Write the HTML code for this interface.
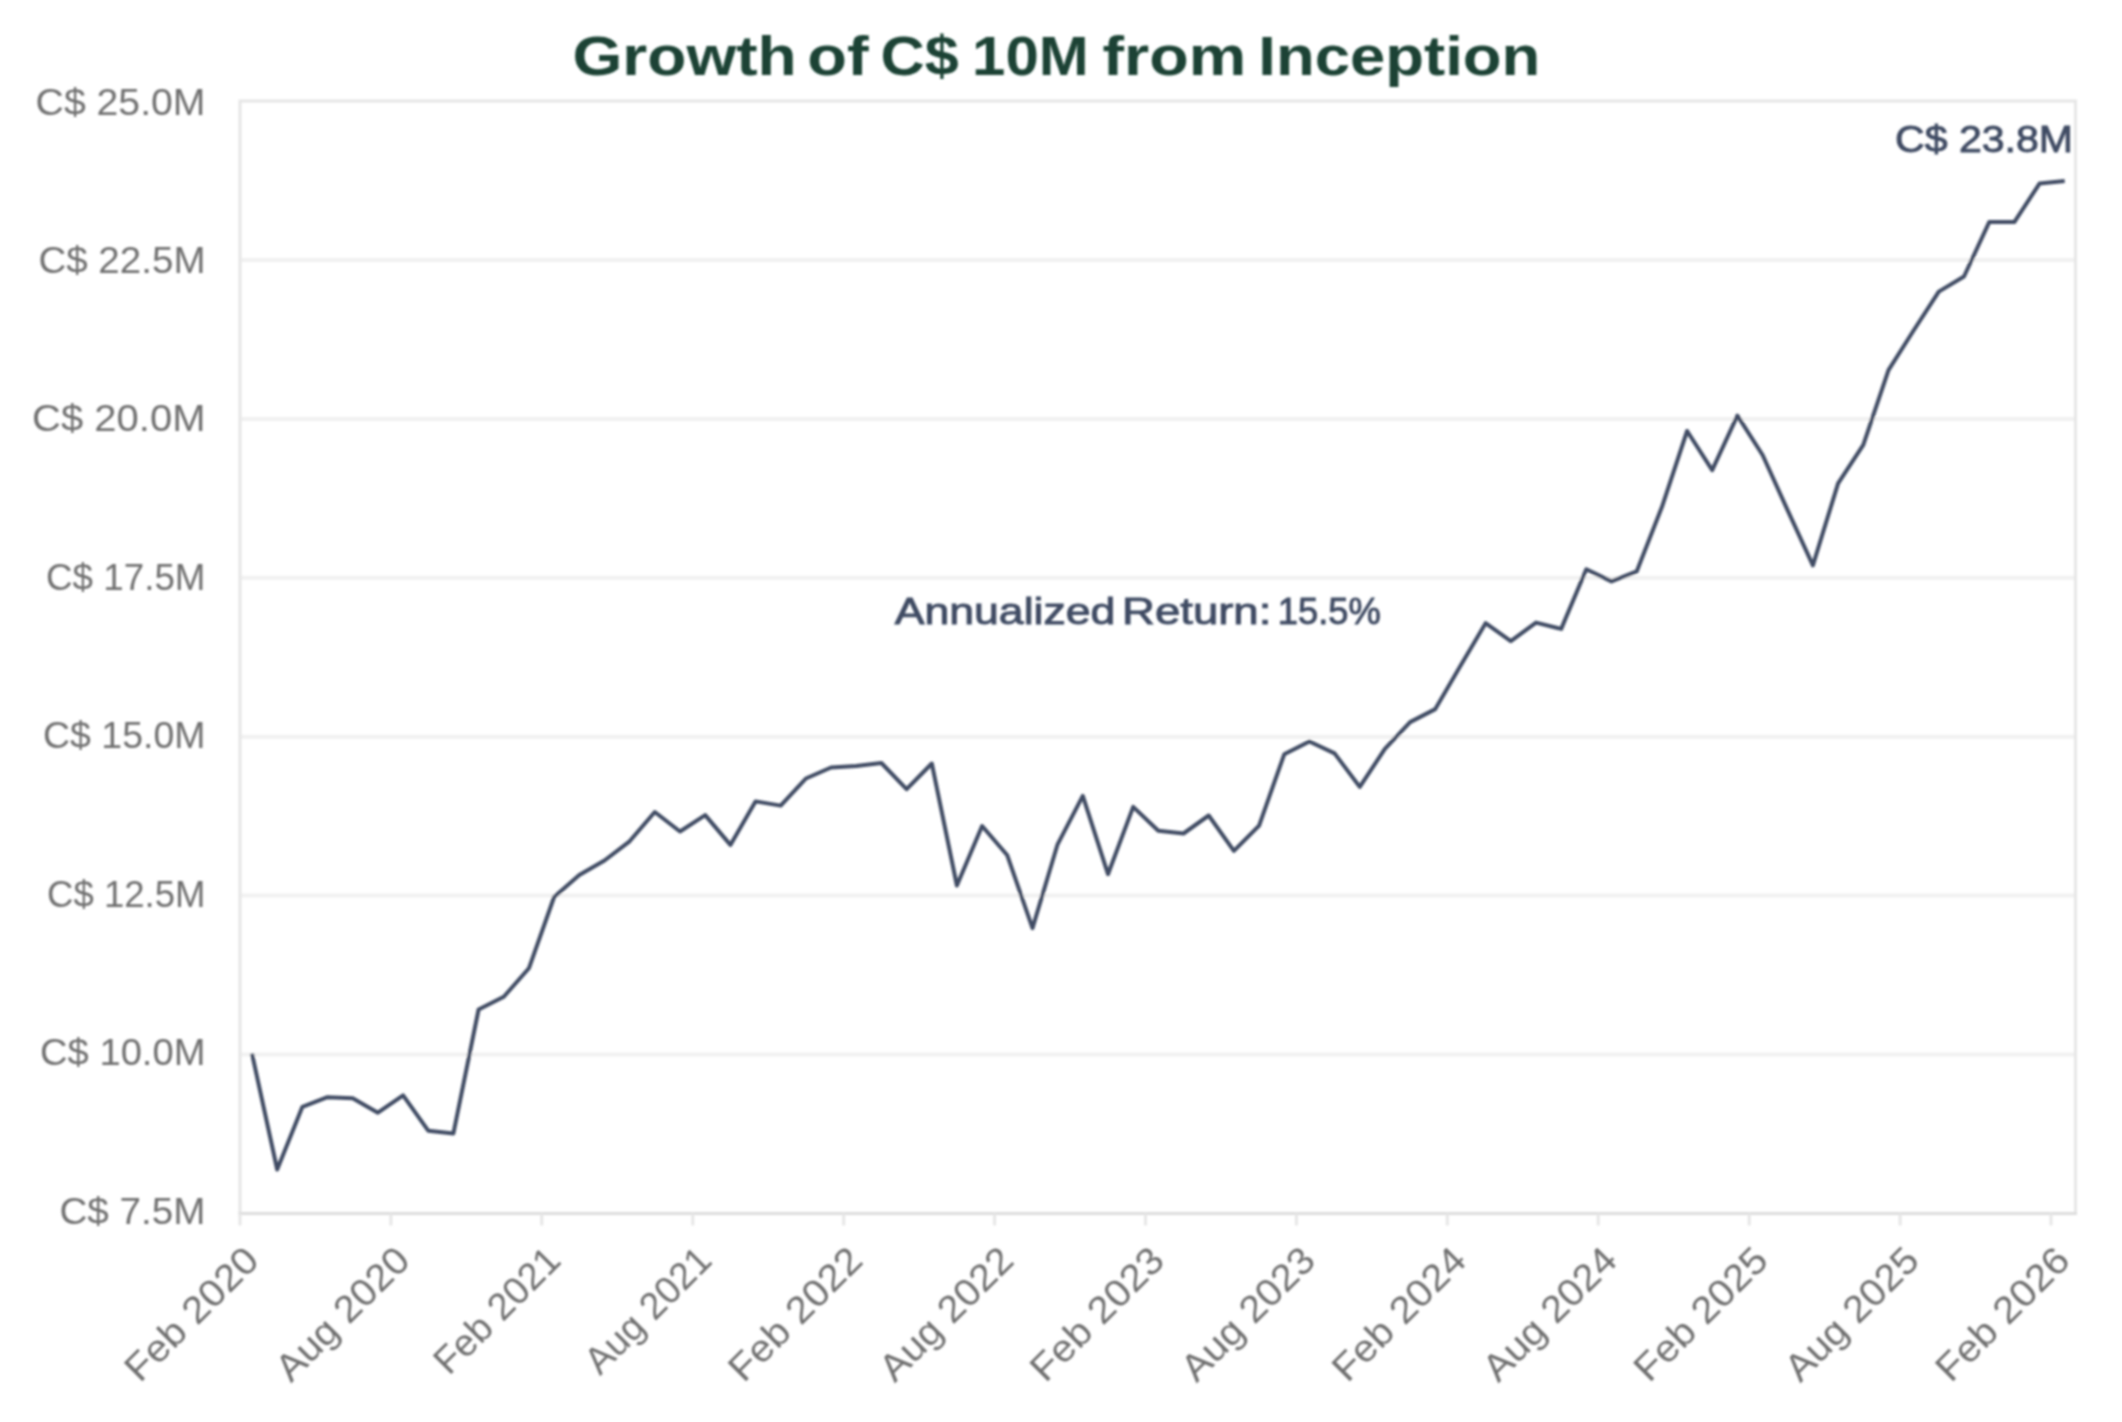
<!DOCTYPE html>
<html><head><meta charset="utf-8"><style>
html,body{margin:0;padding:0;background:#fff;width:2122px;height:1422px;overflow:hidden}
svg{display:block}
text{font-family:"Liberation Sans", sans-serif}
</style></head><body>
<svg width="2122" height="1422" viewBox="0 0 2122 1422">
<defs><filter id="bl" x="0" y="0" width="2122" height="1422" filterUnits="userSpaceOnUse"><feGaussianBlur stdDeviation="1.0"/></filter></defs>
<rect width="2122" height="1422" fill="#ffffff"/>
<g filter="url(#bl)">
<line x1="240" y1="259.9" x2="2075.5" y2="259.9" stroke="#f1f1f1" stroke-width="4"/>
<line x1="240" y1="418.9" x2="2075.5" y2="418.9" stroke="#f1f1f1" stroke-width="4"/>
<line x1="240" y1="577.8" x2="2075.5" y2="577.8" stroke="#f1f1f1" stroke-width="4"/>
<line x1="240" y1="736.7" x2="2075.5" y2="736.7" stroke="#f1f1f1" stroke-width="4"/>
<line x1="240" y1="895.6" x2="2075.5" y2="895.6" stroke="#f1f1f1" stroke-width="4"/>
<line x1="240" y1="1054.6" x2="2075.5" y2="1054.6" stroke="#f1f1f1" stroke-width="4"/>
<rect x="240" y="101" width="1835.5" height="1112.5" fill="none" stroke="#e6e6e6" stroke-width="3"/>
<line x1="238.5" y1="1213.5" x2="2077.0" y2="1213.5" stroke="#dddddd" stroke-width="3"/>
<line x1="240.0" y1="1213.5" x2="240.0" y2="1225.5" stroke="#e6e6e6" stroke-width="3"/>
<line x1="390.9" y1="1213.5" x2="390.9" y2="1225.5" stroke="#e6e6e6" stroke-width="3"/>
<line x1="541.8" y1="1213.5" x2="541.8" y2="1225.5" stroke="#e6e6e6" stroke-width="3"/>
<line x1="692.8" y1="1213.5" x2="692.8" y2="1225.5" stroke="#e6e6e6" stroke-width="3"/>
<line x1="843.7" y1="1213.5" x2="843.7" y2="1225.5" stroke="#e6e6e6" stroke-width="3"/>
<line x1="994.6" y1="1213.5" x2="994.6" y2="1225.5" stroke="#e6e6e6" stroke-width="3"/>
<line x1="1145.5" y1="1213.5" x2="1145.5" y2="1225.5" stroke="#e6e6e6" stroke-width="3"/>
<line x1="1296.4" y1="1213.5" x2="1296.4" y2="1225.5" stroke="#e6e6e6" stroke-width="3"/>
<line x1="1447.3" y1="1213.5" x2="1447.3" y2="1225.5" stroke="#e6e6e6" stroke-width="3"/>
<line x1="1598.2" y1="1213.5" x2="1598.2" y2="1225.5" stroke="#e6e6e6" stroke-width="3"/>
<line x1="1749.2" y1="1213.5" x2="1749.2" y2="1225.5" stroke="#e6e6e6" stroke-width="3"/>
<line x1="1900.1" y1="1213.5" x2="1900.1" y2="1225.5" stroke="#e6e6e6" stroke-width="3"/>
<line x1="2051.0" y1="1213.5" x2="2051.0" y2="1225.5" stroke="#e6e6e6" stroke-width="3"/>
<text x="35.6" y="114.5" font-size="37" fill="#707070" textLength="169.9" lengthAdjust="spacingAndGlyphs">C$ 25.0M</text>
<text x="38.4" y="273.0" font-size="37" fill="#707070" textLength="167.1" lengthAdjust="spacingAndGlyphs">C$ 22.5M</text>
<text x="32.0" y="431.4" font-size="37" fill="#707070" textLength="173.5" lengthAdjust="spacingAndGlyphs">C$ 20.0M</text>
<text x="46.0" y="589.9" font-size="37" fill="#707070" textLength="159.5" lengthAdjust="spacingAndGlyphs">C$ 17.5M</text>
<text x="43.0" y="748.4" font-size="37" fill="#707070" textLength="162.5" lengthAdjust="spacingAndGlyphs">C$ 15.0M</text>
<text x="47.0" y="906.9" font-size="37" fill="#707070" textLength="158.5" lengthAdjust="spacingAndGlyphs">C$ 12.5M</text>
<text x="40.0" y="1065.3" font-size="37" fill="#707070" textLength="165.5" lengthAdjust="spacingAndGlyphs">C$ 10.0M</text>
<text x="59.4" y="1223.8" font-size="37" fill="#707070" textLength="146.1" lengthAdjust="spacingAndGlyphs">C$ 7.5M</text>
<text transform="translate(261.0,1262.5) rotate(-45)" text-anchor="end" font-size="38" fill="#707070" textLength="171" lengthAdjust="spacingAndGlyphs">Feb 2020</text>
<text transform="translate(411.9,1262.5) rotate(-45)" text-anchor="end" font-size="38" fill="#707070" textLength="171" lengthAdjust="spacingAndGlyphs">Aug 2020</text>
<text transform="translate(562.8,1262.5) rotate(-45)" text-anchor="end" font-size="38" fill="#707070" textLength="161" lengthAdjust="spacingAndGlyphs">Feb 2021</text>
<text transform="translate(713.8,1262.5) rotate(-45)" text-anchor="end" font-size="38" fill="#707070" textLength="161" lengthAdjust="spacingAndGlyphs">Aug 2021</text>
<text transform="translate(864.7,1262.5) rotate(-45)" text-anchor="end" font-size="38" fill="#707070" textLength="171" lengthAdjust="spacingAndGlyphs">Feb 2022</text>
<text transform="translate(1015.6,1262.5) rotate(-45)" text-anchor="end" font-size="38" fill="#707070" textLength="171" lengthAdjust="spacingAndGlyphs">Aug 2022</text>
<text transform="translate(1166.5,1262.5) rotate(-45)" text-anchor="end" font-size="38" fill="#707070" textLength="171" lengthAdjust="spacingAndGlyphs">Feb 2023</text>
<text transform="translate(1317.4,1262.5) rotate(-45)" text-anchor="end" font-size="38" fill="#707070" textLength="171" lengthAdjust="spacingAndGlyphs">Aug 2023</text>
<text transform="translate(1468.3,1262.5) rotate(-45)" text-anchor="end" font-size="38" fill="#707070" textLength="171" lengthAdjust="spacingAndGlyphs">Feb 2024</text>
<text transform="translate(1619.2,1262.5) rotate(-45)" text-anchor="end" font-size="38" fill="#707070" textLength="171" lengthAdjust="spacingAndGlyphs">Aug 2024</text>
<text transform="translate(1770.2,1262.5) rotate(-45)" text-anchor="end" font-size="38" fill="#707070" textLength="171" lengthAdjust="spacingAndGlyphs">Feb 2025</text>
<text transform="translate(1921.1,1262.5) rotate(-45)" text-anchor="end" font-size="38" fill="#707070" textLength="171" lengthAdjust="spacingAndGlyphs">Aug 2025</text>
<text transform="translate(2072.0,1262.5) rotate(-45)" text-anchor="end" font-size="38" fill="#707070" textLength="171" lengthAdjust="spacingAndGlyphs">Feb 2026</text>
<polyline points="252.0,1053.6 277.2,1169.5 302.4,1106.8 327.5,1097.2 352.7,1098.2 377.9,1112.7 403.1,1095.4 428.2,1130.7 453.4,1133.4 478.6,1009.5 503.8,996.7 528.9,968.3 554.1,897.0 579.3,875.1 604.5,860.5 629.6,841.3 654.8,812.0 680.0,831.5 705.2,815.1 730.4,844.9 755.5,801.4 780.7,805.6 805.9,778.5 831.1,767.5 856.2,766.1 881.4,763.0 906.6,789.2 931.8,763.5 956.9,885.5 982.1,826.0 1007.3,855.3 1032.5,928.1 1057.6,844.3 1082.8,795.9 1108.0,874.2 1133.2,806.9 1158.3,830.7 1183.5,833.5 1208.7,815.5 1233.9,850.9 1259.1,825.6 1284.2,754.3 1309.4,741.5 1334.6,753.4 1359.8,786.9 1384.9,748.8 1410.1,722.1 1435.3,709.1 1460.5,665.8 1485.6,623.2 1510.8,641.2 1536.0,622.6 1561.2,628.9 1586.3,569.3 1611.5,581.4 1636.7,571.4 1661.9,507.1 1687.1,431.0 1712.2,470.2 1737.4,415.7 1762.6,455.0 1787.8,510.6 1812.9,565.3 1838.1,483.3 1863.3,444.9 1888.5,370.1 1913.6,330.5 1938.8,291.6 1964.0,276.5 1989.2,222.1 2014.3,222.1 2039.5,183.6 2064.7,181.1" fill="none" stroke="#3f4b63" stroke-width="4" stroke-linejoin="round"/>
<text x="572.4" y="74.5" font-size="56" font-weight="bold" fill="#1a4334" textLength="224.4" lengthAdjust="spacingAndGlyphs">Growth</text>
<text x="807.3" y="74.5" font-size="56" font-weight="bold" fill="#1a4334" textLength="61.3" lengthAdjust="spacingAndGlyphs">of</text>
<text x="880.6" y="74.5" font-size="56" font-weight="bold" fill="#1a4334" textLength="78.2" lengthAdjust="spacingAndGlyphs">C$</text>
<text x="972.1" y="74.5" font-size="56" font-weight="bold" fill="#1a4334" textLength="116.7" lengthAdjust="spacingAndGlyphs">10M</text>
<text x="1102.5" y="74.5" font-size="56" font-weight="bold" fill="#1a4334" textLength="143.6" lengthAdjust="spacingAndGlyphs">from</text>
<text x="1258.3" y="74.5" font-size="56" font-weight="bold" fill="#1a4334" textLength="282.0" lengthAdjust="spacingAndGlyphs">Inception</text>
<text x="894.7" y="624" font-size="37" fill="#3f4b63" stroke="#3f4b63" stroke-width="0.9" textLength="220.7" lengthAdjust="spacingAndGlyphs">Annualized</text>
<text x="1122.1" y="624" font-size="37" fill="#3f4b63" stroke="#3f4b63" stroke-width="0.9" textLength="149.2" lengthAdjust="spacingAndGlyphs">Return:</text>
<text x="1277.8" y="624" font-size="37" fill="#3f4b63" stroke="#3f4b63" stroke-width="0.9" textLength="103.0" lengthAdjust="spacingAndGlyphs">15.5%</text>
<text x="1895.1" y="152" font-size="37" fill="#3f4b63" stroke="#3f4b63" stroke-width="0.9" textLength="177.9" lengthAdjust="spacingAndGlyphs">C$ 23.8M</text>
</g>
</svg>
</body></html>
